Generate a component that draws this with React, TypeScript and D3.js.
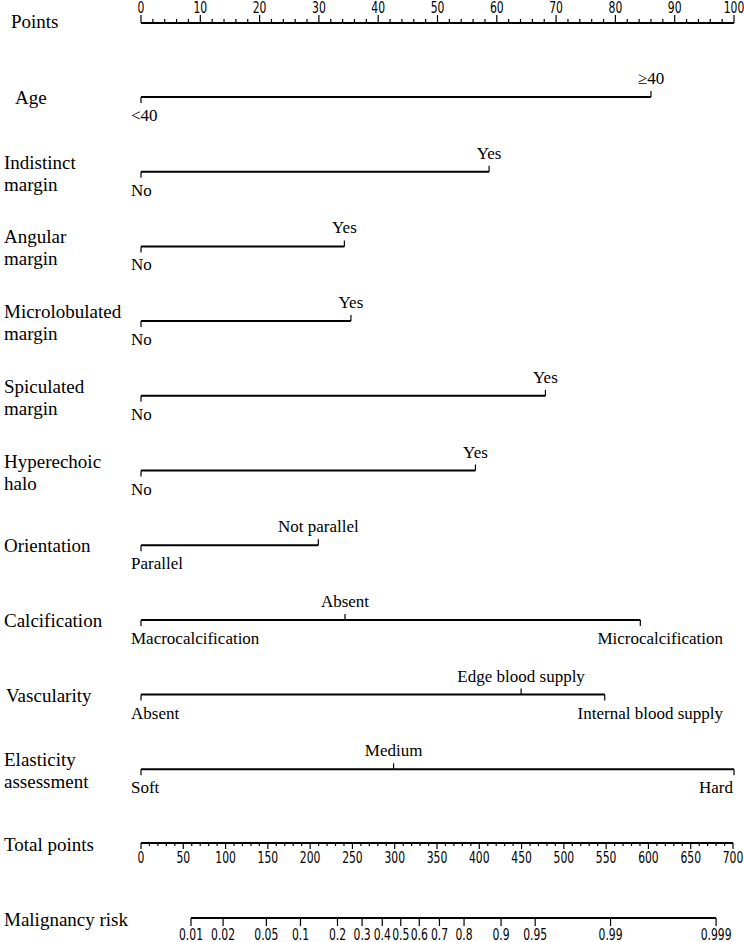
import React from "react";
import * as d3 from "d3";

// ---------- data ----------
const pointTicks = d3.range(0, 101, 10);
const pointMinor = d3.range(0, 101, 2);
const totalTicks = d3.range(0, 701, 50);
const totalMinor = d3.range(0, 701, 10);
const riskTicks = [0.01, 0.02, 0.05, 0.1, 0.2, 0.3, 0.4, 0.5, 0.6, 0.7, 0.8, 0.9, 0.95, 0.99, 0.999];
const riskLabels = ["0.01", "0.02", "0.05", "0.1", "0.2", "0.3", "0.4", "0.5", "0.6", "0.7", "0.8", "0.9", "0.95", "0.99", "0.999"];

const rowNames = [
  ["Age"],
  ["Indistinct", "margin"],
  ["Angular", "margin"],
  ["Microlobulated", "margin"],
  ["Spiculated", "margin"],
  ["Hyperechoic", "halo"],
  ["Orientation"],
  ["Calcification"],
  ["Vascularity"],
  ["Elasticity", "assessment"],
];

const ageLevels = ["<40", "≥40"];
const agePoints = [0, 86];
const indistinctLevels = ["No", "Yes"];
const indistinctPoints = [0, 58.7];
const angularLevels = ["No", "Yes"];
const angularPoints = [0, 34.3];
const microLevels = ["No", "Yes"];
const microPoints = [0, 35.4];
const spiculatedLevels = ["No", "Yes"];
const spiculatedPoints = [0, 68.2];
const haloLevels = ["No", "Yes"];
const haloPoints = [0, 56.4];
const orientationLevels = ["Parallel", "Not parallel"];
const orientationPoints = [0, 29.9];
const calcLevels = ["Macrocalcification", "Absent", "Microcalcification"];
const calcPoints = [0, 34.4, 84.2];
const vascLevels = ["Absent", "Edge blood supply", "Internal blood supply"];
const vascPoints = [0, 64.1, 78.2];
const elastLevels = ["Soft", "Medium", "Hard"];
const elastPoints = [0, 42.6, 100];

const rows = [
  { levels: ageLevels, pts: agePoints },
  { levels: indistinctLevels, pts: indistinctPoints },
  { levels: angularLevels, pts: angularPoints },
  { levels: microLevels, pts: microPoints },
  { levels: spiculatedLevels, pts: spiculatedPoints },
  { levels: haloLevels, pts: haloPoints },
  { levels: orientationLevels, pts: orientationPoints },
  { levels: calcLevels, pts: calcPoints },
  { levels: vascLevels, pts: vascPoints },
  { levels: elastLevels, pts: elastPoints },
];

// ---------- layout ----------
const W = 744;
const H = 942;
const X0 = 141;
const X1 = 734;
const rowY0 = 97;
const rowStep = 74.7;
const pointsY = 23;
const totalY = 843;
const riskY = 918;
const rowLabelX: Record<string, number> = { Age: 15, Vascularity: 6 };
// labels at the right end that are right-aligned to a fixed x (layout only)
const rightAligned: Record<string, number> = {
  Microcalcification: 723,
  "Internal blood supply": 723,
  Hard: 733,
};

const serif = "'Liberation Serif', 'DejaVu Serif', 'Times New Roman', serif";
const narrow = "'Liberation Sans Narrow', 'DejaVu Sans Condensed', 'Roboto Condensed', sans-serif";

const lbl = { fontFamily: serif } as React.CSSProperties;
const num = { fontFamily: narrow } as React.CSSProperties;

function Num({ x, y, children }: { x: number; y: number; children: React.ReactNode }) {
  return (
    <text transform={`translate(${x},${y}) scale(0.8,1)`} fontSize={15} style={num} textAnchor="middle">
      {children}
    </text>
  );
}

export default function App() {
  const xPts = d3.scaleLinear().domain([0, 100]).range([X0, X1]);
  const xTot = d3.scaleLinear().domain([0, 700]).range([X0, X1 - 1]);
  // linear predictor -> total points
  const lpToTotal = d3.scaleLinear().domain([Math.log(0.01 / 0.99), Math.log(0.999 / 0.001)]).range([59.1, 680]);
  const xRisk = (p: number) => xTot(lpToTotal(Math.log(p / (1 - p))));

  return (
    <svg
      width={W}
      height={H}
      style={{ position: "absolute", left: 0, top: 0, background: "#fff" }}
    >
      <rect width={W} height={H} fill="#fff" />
      {/* Points axis */}
      <text x={11} y={pointsY + 5} fontSize={19} style={lbl}>Points</text>
      <line x1={xPts(0)} x2={xPts(100)} y1={pointsY} y2={pointsY} stroke="#000" strokeWidth={2} />
      {pointMinor.map((v) => (
        <line key={"pm" + v} x1={xPts(v)} x2={xPts(v)} y1={pointsY} y2={pointsY - (v % 10 === 0 ? 8 : 4)} stroke="#000" strokeWidth={1.2} />
      ))}
      {pointTicks.map((v) => (
        <Num key={"pt" + v} x={xPts(v)} y={pointsY - 10}>{v}</Num>
      ))}

      {/* variable rows */}
      {rows.map((r, i) => {
        const y = rowY0 + i * rowStep;
        const name = rowNames[i];
        const lx = rowLabelX[name[0]] ?? 4;
        const xmax = d3.max(r.pts) as number;
        return (
          <g key={"row" + i}>
            {name.length === 1 ? (
              <text x={lx} y={y + 7} fontSize={19} style={lbl}>{name[0]}</text>
            ) : (
              <>
                <text x={lx} y={y - 3} fontSize={19} style={lbl}>{name[0]}</text>
                <text x={lx} y={y + 19} fontSize={19} style={lbl}>{name[1]}</text>
              </>
            )}
            <line x1={xPts(0)} x2={xPts(xmax)} y1={y} y2={y} stroke="#000" strokeWidth={2} />
            {r.levels.map((lab, j) => {
              const above = j % 2 === 1;
              const tx = xPts(r.pts[j]);
              let anchor: "start" | "middle" | "end" = "middle";
              let ax = tx;
              if (j === 0) {
                anchor = "start";
                ax = tx - 10;
              } else if (rightAligned[lab] !== undefined) {
                anchor = "end";
                ax = rightAligned[lab];
              }
              return (
                <g key={lab + j}>
                  <line x1={tx} x2={tx} y1={y} y2={above ? y - 6 : y + 6} stroke="#000" strokeWidth={1.2} />
                  <text x={ax} y={above ? y - 13 : y + 24} fontSize={17} style={lbl} textAnchor={anchor}>{lab}</text>
                </g>
              );
            })}
          </g>
        );
      })}

      {/* Total points axis */}
      <text x={4} y={totalY + 8} fontSize={19} style={lbl}>Total points</text>
      <line x1={xTot(0)} x2={xTot(700)} y1={totalY} y2={totalY} stroke="#000" strokeWidth={2} />
      {totalMinor.map((v) => (
        <line key={"tm" + v} x1={xTot(v)} x2={xTot(v)} y1={totalY} y2={totalY + (v % 50 === 0 ? 6 : 3)} stroke="#000" strokeWidth={1.2} />
      ))}
      {totalTicks.map((v) => (
        <Num key={"tt" + v} x={xTot(v)} y={totalY + 20}>{v}</Num>
      ))}

      {/* Malignancy risk axis */}
      <text x={4} y={riskY + 8} fontSize={19} style={lbl}>Malignancy risk</text>
      <line x1={xRisk(riskTicks[0])} x2={xRisk(riskTicks[riskTicks.length - 1])} y1={riskY} y2={riskY} stroke="#000" strokeWidth={2} />
      {riskTicks.map((p, k) => (
        <g key={"r" + p}>
          <line x1={xRisk(p)} x2={xRisk(p)} y1={riskY} y2={riskY + 8} stroke="#000" strokeWidth={1.2} />
          <Num x={xRisk(p)} y={riskY + 22}>{riskLabels[k]}</Num>
        </g>
      ))}
    </svg>
  );
}
